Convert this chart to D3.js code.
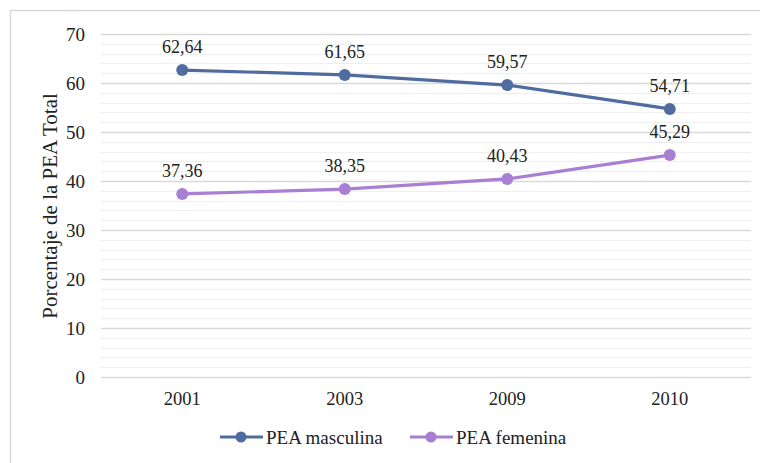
<!DOCTYPE html>
<html>
<head>
<meta charset="utf-8">
<script src="https://cdn.jsdelivr.net/npm/d3@7"></script>
<style>
  html, body { margin: 0; padding: 0; background: #fff; }
  svg { display: block; }
</style>
</head>
<body>
<div id="chart"></div>
<script>
// Data: share of the economically active population (PEA) by sex
const years = ["2001", "2003", "2009", "2010"];
const masculina = [62.64, 61.65, 59.57, 54.71];
const femenina = [37.36, 38.35, 40.43, 45.29];
const seriesNames = ["PEA masculina", "PEA femenina"];
const yTicks = [0, 10, 20, 30, 40, 50, 60, 70];

const W = 760, H = 463;
const left = 101, right = 751;
const colors = ["#506c9f", "#a97fd3"];
const FONT = '"Liberation Serif"';

const svg = d3.select("#chart").append("svg")
  .attr("width", W).attr("height", H);

// Outer frame
svg.append("rect")
  .attr("x", 10.5).attr("y", 10.5)
  .attr("width", W + 20).attr("height", H)
  .attr("fill", "none").attr("stroke", "#d9d9d9").attr("stroke-width", 1.5);

const x = d3.scaleBand().domain(years).range([left, right]);
const y = d3.scaleLinear().domain([0, 70]).range([377, 34]);

// Minor gridlines
const minor = d3.range(0, 71, 2).filter(v => v % 10 !== 0);
svg.append("g").selectAll("line").data(minor).join("line")
  .attr("x1", left).attr("x2", right)
  .attr("y1", d => Math.round(y(d)) + 0.5).attr("y2", d => Math.round(y(d)) + 0.5)
  .attr("stroke", "#efefef").attr("stroke-width", 1);

// Major gridlines + y-axis labels
const yAxis = d3.axisLeft(y).tickValues(yTicks).tickSize(-(right - left)).tickPadding(16);
const gy = svg.append("g").attr("transform", `translate(${left},0)`).call(yAxis);
gy.select(".domain").remove();
gy.selectAll(".tick line").attr("stroke", "#d9d9d9").attr("stroke-width", 1.3);
gy.selectAll(".tick text")
  .style("font-family", FONT).style("font-size", "19px").attr("fill", "#222");

// X-axis labels
const xAxis = d3.axisBottom(x).tickSize(0).tickPadding(15);
const gx = svg.append("g").attr("transform", `translate(0,${y(0)})`).call(xAxis);
gx.select(".domain").remove();
gx.selectAll(".tick text")
  .style("font-family", FONT).style("font-size", "18.5px").attr("fill", "#222");

// Y-axis title
svg.append("text")
  .attr("transform", "translate(57,206) rotate(-90)")
  .attr("text-anchor", "middle")
  .style("font-family", FONT).style("font-size", "21px").attr("fill", "#222")
  .text("Porcentaje de la PEA Total");

const cx = d => x(d) + x.bandwidth() / 2;
const line = d3.line().x((d, i) => cx(years[i])).y(d => y(d));

[masculina, femenina].forEach((vals, si) => {
  const g = svg.append("g");
  g.append("path").datum(vals)
    .attr("d", line).attr("fill", "none")
    .attr("stroke", colors[si]).attr("stroke-width", 3.2);
  g.selectAll("circle").data(vals).join("circle")
    .attr("cx", (d, i) => cx(years[i])).attr("cy", d => y(d))
    .attr("r", 6).attr("fill", colors[si]);
  g.selectAll("text").data(vals).join("text")
    .attr("x", (d, i) => cx(years[i])).attr("y", d => y(d) - 17)
    .attr("text-anchor", "middle")
    .style("font-family", FONT).style("font-size", "18px").attr("fill", "#222")
    .text(d => d3.format(".2f")(d).replace(".", ","));
});

// Legend
const legendX = [220, 410];
seriesNames.forEach((name, i) => {
  const lg = svg.append("g").attr("transform", `translate(${legendX[i]},437)`);
  lg.append("line").attr("x1", 0).attr("x2", 43).attr("y1", 0).attr("y2", 0)
    .attr("stroke", colors[i]).attr("stroke-width", 3.2);
  lg.append("circle").attr("cx", 21).attr("cy", 0).attr("r", 5.5).attr("fill", colors[i]);
  lg.append("text").attr("x", 46).attr("y", 7)
    .style("font-family", FONT).style("font-size", "19px").attr("fill", "#222")
    .text(name);
});
</script>
</body>
</html>
